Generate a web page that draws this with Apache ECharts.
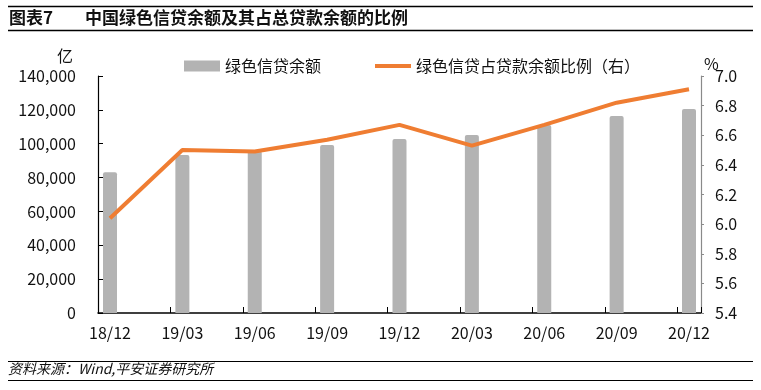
<!DOCTYPE html>
<html><head><meta charset="utf-8">
<script src="https://cdn.jsdelivr.net/npm/echarts@6/dist/echarts.min.js"></script>
<style>html,body{margin:0;padding:0;background:#fff}#c{width:761px;height:390px}</style>
</head><body><div id="c"></div>
<script>
const categories = ['18/12','19/03','19/06','19/09','19/12','20/03','20/06','20/09','20/12'];
const greenLoan = [83100, 93300, 95700, 99200, 102800, 105100, 111000, 116400, 120500];
const greenShare = [6.04, 6.50, 6.49, 6.57, 6.67, 6.53, 6.67, 6.82, 6.91];
const leftTicks = {min: 0, max: 140000, interval: 20000};
const rightTicks = {min: 5.4, max: 7.0, interval: 0.2};
const seriesNames = ['绿色信贷余额', '绿色信贷占贷款余额比例（右）'];

const FONT = '"Noto Sans CJK SC", "Noto Sans", sans-serif';
const chart = echarts.init(document.getElementById('c'), null, {renderer: 'canvas'});
const fmtComma = v => v.toString().replace(/\B(?=(\d{3})+(?!\d))/g, ',');

chart.setOption({
  animation: false,
  backgroundColor: '#fff',
  textStyle: {fontFamily: FONT},
  legend: {
    left: 179, top: 53,
    itemWidth: 36, itemHeight: 11, itemGap: 54,
    textStyle: {fontSize: 16, color: '#111', fontFamily: FONT},
    data: [
      {name: seriesNames[0], icon: 'rect'},
      {name: seriesNames[1], icon: 'path://M0,0L34,0L34,4L0,4Z'}
    ]
  },
  grid: [
    {left: 110, right: 72, top: 76, bottom: 77},
    {left: 98, right: 60, top: 76, bottom: 77}
  ],
  xAxis: [
    {
      type: 'category', gridIndex: 0, data: categories, boundaryGap: false,
      axisLine: {show: false}, axisTick: {show: false},
      axisLabel: {fontSize: 16, color: '#111', margin: 12, fontFamily: FONT}
    },
    {
      type: 'value', gridIndex: 1, min: 0, max: 603 / 72.4, interval: 1,
      axisLine: {show: true, lineStyle: {color: '#000', width: 1.5}},
      axisTick: {show: true, inside: true, length: 6, lineStyle: {color: '#000'}},
      axisLabel: {show: false}, splitLine: {show: false}
    }
  ],
  yAxis: [
    {
      type: 'value', gridIndex: 0, position: 'left', offset: 12,
      min: leftTicks.min, max: leftTicks.max, interval: leftTicks.interval,
      axisLine: {show: true, lineStyle: {color: '#000', width: 1.2}},
      axisTick: {show: true, inside: true, length: 5, lineStyle: {color: '#000'}},
      axisLabel: {fontSize: 16, color: '#111', margin: 22, formatter: fmtComma, fontFamily: FONT},
      splitLine: {show: false}
    },
    {
      type: 'value', gridIndex: 0, position: 'right', offset: 12,
      min: rightTicks.min, max: rightTicks.max, interval: rightTicks.interval,
      axisLine: {show: true, lineStyle: {color: '#8a8a8a', width: 1.2}},
      axisTick: {show: true, inside: false, length: 3, lineStyle: {color: '#8a8a8a'}},
      axisLabel: {fontSize: 16, color: '#111', margin: 14, formatter: v => v.toFixed(1), fontFamily: FONT},
      splitLine: {show: false}
    },
    {type: 'value', gridIndex: 1, show: false}
  ],
  series: [
    {
      name: seriesNames[0], type: 'bar', xAxisIndex: 0, yAxisIndex: 0,
      data: greenLoan, barWidth: 14, clip: false,
      itemStyle: {color: '#b3b3b3', borderRadius: [2, 2, 0, 0]}, z: 2
    },
    {
      name: seriesNames[1], type: 'line', xAxisIndex: 0, yAxisIndex: 1,
      data: greenShare, symbol: 'none', showSymbol: false,
      lineStyle: {color: '#ef7d32', width: 4}, itemStyle: {color: '#ef7d32'}, z: 5
    }
  ],
  graphic: [
    {type: 'line', shape: {x1: 8, y1: 6.5, x2: 753, y2: 6.5}, style: {stroke: '#000', lineWidth: 1.5}},
    {type: 'line', shape: {x1: 8, y1: 30.5, x2: 753, y2: 30.5}, style: {stroke: '#000', lineWidth: 1.5}},
    {type: 'text', left: 9, top: 9, style: {text: '图表7', font: 'bold 17px ' + FONT, fill: '#111'}},
    {type: 'text', left: 85, top: 9, style: {text: '中国绿色信贷余额及其占总贷款余额的比例', font: 'bold 17px ' + FONT, fill: '#111'}},
    {type: 'text', left: 57, top: 48, style: {text: '亿', font: '16px ' + FONT, fill: '#111'}},
    {type: 'text', left: 704, top: 56, style: {text: '%', font: '16px ' + FONT, fill: '#111'}},
    {type: 'line', shape: {x1: 8, y1: 361.5, x2: 753, y2: 361.5}, style: {stroke: '#000', lineWidth: 1.2}},
    {type: 'line', shape: {x1: 8, y1: 380.5, x2: 753, y2: 380.5}, style: {stroke: '#000', lineWidth: 1.2}},
    {type: 'text', left: 8, top: 362, style: {text: '资料来源：Wind,平安证券研究所', font: 'italic 14px ' + FONT, fill: '#111'}}
  ]
});
</script></body></html>
